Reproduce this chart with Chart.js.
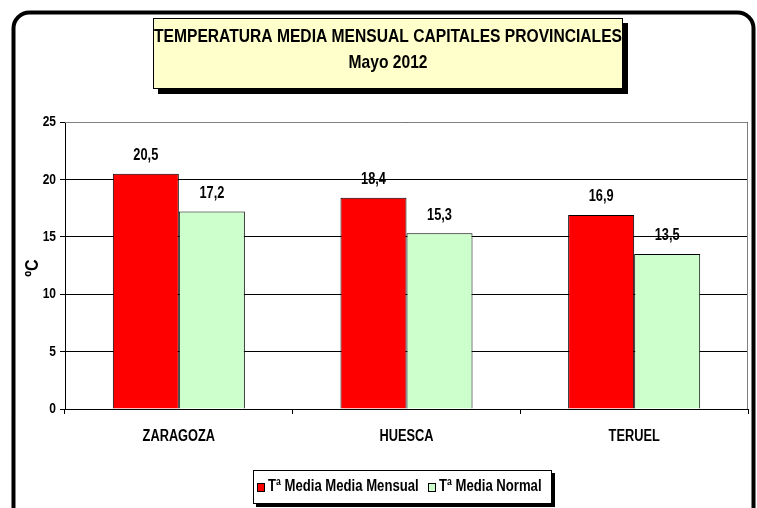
<!DOCTYPE html>
<html>
<head>
<meta charset="utf-8">
<script src="https://cdn.jsdelivr.net/npm/chart.js@4/dist/chart.umd.min.js"></script>
<style>
  html, body { margin: 0; padding: 0; background: #fff; }
  #wrap { width: 757px; height: 508px; position: relative; }
</style>
</head>
<body>
<div id="wrap"><canvas id="chart" width="757" height="508"></canvas></div>
<script>
// datos
const ciudades = ["ZARAGOZA", "HUESCA", "TERUEL"];
const mediaMensual = [20.5, 18.4, 16.9];
const mediaNormal = [17.2, 15.3, 13.5];
const ticksY = [0, 5, 10, 15, 20, 25];
const titulo = ["TEMPERATURA MEDIA MENSUAL CAPITALES PROVINCIALES", "Mayo 2012"];
const nombresSeries = ["Tª Media Media Mensual", "Tª Media Normal"];

const FUENTE = "'Liberation Sans', Arial, sans-serif";
const ESTRECHO = 0.8; // imita Arial Narrow

// texto en negrita comprimido horizontalmente
function texto(ctx, str, x, y, size, sx, align) {
  ctx.save();
  ctx.font = "bold " + size + "px " + FUENTE;
  ctx.translate(x, y);
  ctx.scale(sx, 1);
  ctx.textAlign = align;
  ctx.textBaseline = "middle";
  ctx.fillStyle = "#000";
  ctx.fillText(str, 0, 0);
  ctx.restore();
}

// marco redondeado, caja de titulo, leyenda y etiquetas
const decoracion = {
  id: "decoracion",
  beforeDraw(chart) {
    const ctx = chart.ctx;
    ctx.save();
    ctx.fillStyle = "#fff";
    ctx.fillRect(0, 0, chart.width, chart.height);
    ctx.lineWidth = 4;
    ctx.strokeStyle = "#000";
    ctx.beginPath();
    ctx.roundRect(13.5, 12.5, 740, 520, 16);
    ctx.stroke();
    ctx.restore();
  },
  afterDraw(chart) {
    const ctx = chart.ctx;
    const area = chart.chartArea;
    ctx.save();
    // borde gris del area del grafico
    ctx.strokeStyle = "#808080";
    ctx.lineWidth = 1;
    ctx.beginPath();
    ctx.moveTo(area.left, area.top + 0.5);
    ctx.lineTo(area.right - 0.5, area.top + 0.5);
    ctx.lineTo(area.right - 0.5, area.bottom);
    ctx.stroke();

    // caja del titulo
    ctx.fillStyle = "#000";
    ctx.fillRect(158, 23, 470, 71);
    ctx.fillStyle = "#FFFFCC";
    ctx.fillRect(153, 18, 470, 71);
    ctx.strokeStyle = "#000";
    ctx.strokeRect(153.5, 18.5, 469, 70);
    ctx.font = "bold 19px " + FUENTE;
    const sxT = 468 / ctx.measureText(titulo[0]).width;
    texto(ctx, titulo[0], 388, 37, 19, sxT, "center");
    texto(ctx, titulo[1], 388, 63, 19, sxT, "center");

    // titulo eje Y
    ctx.save();
    ctx.translate(33, 268);
    ctx.rotate(-Math.PI / 2);
    texto(ctx, "ºC", 0, 0, 19, 0.85, "center");
    ctx.restore();

    // marcas de los ejes
    const sy = chart.scales.y, sxs = chart.scales.x;
    ticksY.forEach(v => texto(ctx, String(v), 56, sy.getPixelForValue(v), 15, ESTRECHO, "right"));
    ciudades.forEach((c, i) => texto(ctx, c, sxs.getPixelForValue(i), 437, 16, ESTRECHO, "center"));

    // leyenda
    ctx.fillStyle = "#000";
    ctx.fillRect(256, 473, 299, 34);
    ctx.fillStyle = "#fff";
    ctx.fillRect(253, 470, 299, 34);
    ctx.strokeStyle = "#000";
    ctx.strokeRect(253.5, 470.5, 298, 33);
    const colores = chart.data.datasets.map(d => d.backgroundColor);
    const xs = [[257, 268], [428, 439]];
    nombresSeries.forEach((n, i) => {
      ctx.fillStyle = colores[i];
      ctx.fillRect(xs[i][0], 483, 7, 8);
      ctx.strokeRect(xs[i][0] + 0.5, 483.5, 7, 8);
      texto(ctx, n, xs[i][1], 487, 16, 0.82, "left");
    });
    ctx.restore();
  },
  afterDatasetsDraw(chart) {
    const ctx = chart.ctx;
    chart.data.datasets.forEach((ds, i) => {
      chart.getDatasetMeta(i).data.forEach((bar, j) => {
        texto(ctx, ds.data[j].toFixed(1).replace(".", ","), bar.x, bar.y - 18, 16, ESTRECHO, "center");
      });
    });
  }
};

new Chart(document.getElementById("chart"), {
  type: "bar",
  data: {
    labels: ciudades,
    datasets: [
      { label: nombresSeries[0], data: mediaMensual, backgroundColor: "#FF0000",
        borderColor: "#000", borderWidth: 1, borderSkipped: "bottom" },
      { label: nombresSeries[1], data: mediaNormal, backgroundColor: "#CCFFCC",
        borderColor: "#000", borderWidth: 1, borderSkipped: "bottom" }
    ]
  },
  options: {
    responsive: false,
    animation: false,
    devicePixelRatio: 1,
    layout: { padding: { left: 0, right: 9, top: 122, bottom: 59 } },
    plugins: { legend: { display: false }, title: { display: false }, tooltip: { enabled: false } },
    datasets: { bar: { barPercentage: 1, categoryPercentage: 0.58 } },
    scales: {
      x: {
        afterFit(s) { s.height = 40; },
        grid: { offset: true, drawOnChartArea: false, drawTicks: true, tickLength: 5, color: "#000" },
        border: { color: "#000", width: 1 },
        ticks: { color: "rgba(0,0,0,0)", font: { family: FUENTE, size: 12, weight: "bold" } }
      },
      y: {
        min: 0, max: 25,
        afterFit(s) { s.width = 65; },
        afterBuildTicks(s) { s.ticks = ticksY.map(v => ({ value: v })); },
        grid: { color: "#000", tickLength: 5, drawTicks: true },
        border: { color: "#000", width: 1 },
        ticks: { color: "rgba(0,0,0,0)", font: { family: FUENTE, size: 12, weight: "bold" } }
      }
    }
  },
  plugins: [decoracion]
});
</script>
</body>
</html>
